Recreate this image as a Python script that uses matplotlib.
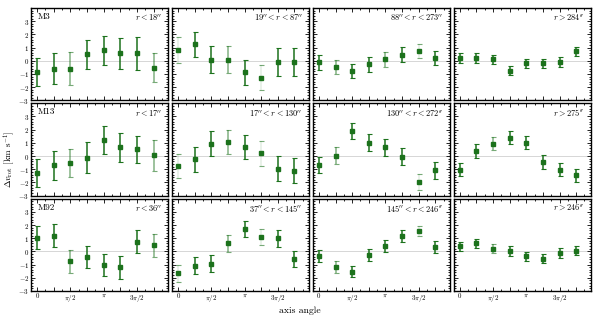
import numpy as np
import matplotlib
matplotlib.use("Agg")
import matplotlib.pyplot as plt
from matplotlib.ticker import MultipleLocator, FixedLocator, FixedFormatter

plt.rcParams['font.family'] = ['cmr10', 'DejaVu Serif']
plt.rcParams['mathtext.fontset'] = 'cm'
plt.rcParams['axes.formatter.use_mathtext'] = True

# ---- data ----
clusters = ["M3", "M13", "M92"]
radial_bins = [
    [r"$r<18^{\prime\prime}$", r"$19^{\prime\prime}<r<87^{\prime\prime}$",
     r"$88^{\prime\prime}<r<273^{\prime\prime}$", r"$r>284^{\prime\prime}$"],
    [r"$r<17^{\prime\prime}$", r"$17^{\prime\prime}<r<130^{\prime\prime}$",
     r"$130^{\prime\prime}<r<272^{\prime\prime}$", r"$r>275^{\prime\prime}$"],
    [r"$r<36^{\prime\prime}$", r"$37^{\prime\prime}<r<145^{\prime\prime}$",
     r"$145^{\prime\prime}<r<246^{\prime\prime}$", r"$r>246^{\prime\prime}$"],
]
axis_angle = np.arange(8) * np.pi / 4

dv = [
    [[-0.85, -0.60, -0.60, 0.48, 0.80, 0.55, 0.55, -0.53],
     [0.83, 1.25, 0.08, 0.08, -0.88, -1.30, -0.12, -0.12],
     [-0.12, -0.48, -0.80, -0.28, 0.10, 0.45, 0.75, 0.22],
     [0.20, 0.20, 0.10, -0.75, -0.20, -0.20, -0.12, 0.72]],
    [[-1.28, -0.70, -0.50, -0.12, 1.20, 0.65, 0.50, 0.05],
     [-0.75, -0.25, 0.95, 1.08, 0.70, 0.20, -0.95, -1.10],
     [-0.68, 0.02, 1.90, 1.02, 0.65, -0.05, -1.95, -1.08],
     [-1.03, 0.38, 0.95, 1.40, 1.00, -0.45, -1.03, -1.45]],
    [[1.05, 1.20, -0.75, -0.43, -1.05, -1.20, 0.73, 0.45],
     [-1.65, -1.08, -0.93, 0.63, 1.68, 1.10, 0.98, -0.58],
     [-0.33, -1.18, -1.53, -0.25, 0.38, 1.18, 1.55, 0.30],
     [0.40, 0.60, 0.20, 0.03, -0.38, -0.55, -0.13, 0.05]],
]
dv_err = [
    [[1.05, 1.20, 1.25, 1.10, 1.10, 1.18, 1.27, 1.08],
     [1.00, 0.95, 1.05, 1.05, 0.95, 0.95, 1.05, 1.05],
     [0.56, 0.55, 0.54, 0.55, 0.56, 0.57, 0.55, 0.54],
     [0.37, 0.36, 0.36, 0.37, 0.36, 0.35, 0.37, 0.35]],
    [[1.07, 1.10, 1.06, 1.16, 1.05, 1.09, 1.05, 1.19],
     [0.93, 0.93, 0.92, 0.92, 0.91, 0.93, 0.93, 0.93],
     [0.63, 0.66, 0.59, 0.62, 0.64, 0.66, 0.60, 0.64],
     [0.52, 0.52, 0.49, 0.50, 0.50, 0.52, 0.52, 0.50]],
    [[0.85, 0.85, 0.88, 0.85, 0.85, 0.87, 0.86, 0.85],
     [0.64, 0.63, 0.64, 0.65, 0.61, 0.62, 0.65, 0.64],
     [0.46, 0.44, 0.44, 0.46, 0.45, 0.45, 0.40, 0.46],
     [0.34, 0.34, 0.36, 0.35, 0.35, 0.34, 0.35, 0.35]],
]
# error-bar shading level per point (n = normal, l = light, f = faint)
bar_shade = [
    ["nnlnnnnl", "fnnlnfnn", "nlnnlnfn", "nnnnnnnn"],
    ["nnlnnnnl", "fnnlnfnn", "nlnnnnfn", "nnlnnnnn"],
    ["nnlnnnnl", "fnnlnfnn", "nlnnnnfn", "nnlnnnnn"],
]

# ---- styles ----
dark = "#1c721c"
shade_alpha = {"n": 1.0, "l": 0.55, "f": 0.12}

fig, axes = plt.subplots(3, 4, figsize=(6.0, 3.19), dpi=100, sharex=True, sharey=True)
fig.subplots_adjust(left=0.052, right=0.985, top=0.975, bottom=0.088,
                    wspace=0.027, hspace=0.033)

for i in range(3):
    for j in range(4):
        ax = axes[i, j]
        ax.axhline(0, color="#d0d0d0", lw=0.6, zorder=0)
        y = dv[i][j]
        e = dv_err[i][j]
        for k in range(8):
            a = shade_alpha[bar_shade[i][j][k]]
            _, caps, bars = ax.errorbar(axis_angle[k], y[k], yerr=e[k], fmt="none",
                                        ecolor=dark, elinewidth=1.1, capsize=1.8,
                                        capthick=0.8)
            for b in bars:
                b.set_alpha(a)
            for c in caps:
                c.set_alpha(max(a, 0.6))
        ax.plot(axis_angle, y, "s", color=dark, ms=2.4, mec=dark, zorder=3)

        ax.set_xlim(-0.28, 6.2)
        ax.set_ylim(-3, 4)
        ax.xaxis.set_major_locator(FixedLocator(np.arange(8) * np.pi / 4))
        ax.xaxis.set_major_formatter(FixedFormatter(
            ["0", "", r"$\pi/2$", "", r"$\pi$", "", r"$3\pi/2$", ""]))
        ax.xaxis.set_minor_locator(MultipleLocator(np.pi / 8))
        ax.yaxis.set_major_locator(FixedLocator([-3, -2, -1, 0, 1, 2, 3]))
        ax.yaxis.set_minor_locator(MultipleLocator(0.2))
        ax.tick_params(which="both", direction="in", top=True, right=True,
                       labelsize=5, pad=1.5, width=0.6)
        ax.tick_params(which="major", length=3)
        ax.tick_params(which="minor", length=1.5)
        for s in ax.spines.values():
            s.set_linewidth(1.0)
        if j == 0:
            ax.text(0.05, 0.95, clusters[i], transform=ax.transAxes,
                    ha="left", va="top", fontsize=6.5)
        ax.text(0.95, 0.95, radial_bins[i][j], transform=ax.transAxes,
                ha="right", va="top", fontsize=6)

fig.text(0.5, 0.012, "axis angle", ha="center", va="bottom", fontsize=7)
fig.text(0.003, 0.5, r"$\Delta v_{\rm rot}$ [km s$^{-1}$]", rotation=90,
         ha="left", va="center", fontsize=6.5)

fig.savefig("out.png", dpi=100)
